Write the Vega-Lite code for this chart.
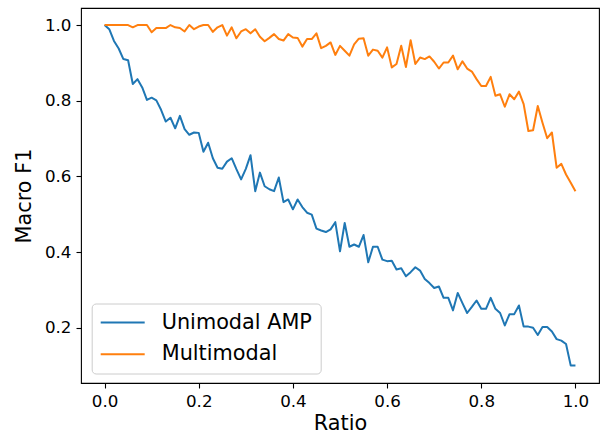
{
  "$schema": "https://vega.github.io/schema/vega-lite/v6.json",
  "width": 518,
  "height": 375,
  "autosize": {"type": "none"},
  "padding": {"left": 81, "top": 8, "right": 1, "bottom": 56},
  "background": "white",
  "data": {"values": [
    {"ratio":0,"model":"Unimodal AMP","f1":1.0},{"ratio":0.01,"model":"Unimodal AMP","f1":0.989},{"ratio":0.02,"model":"Unimodal AMP","f1":0.958},{"ratio":0.03,"model":"Unimodal AMP","f1":0.938},{"ratio":0.04,"model":"Unimodal AMP","f1":0.91},{"ratio":0.05,"model":"Unimodal AMP","f1":0.907},{"ratio":0.06,"model":"Unimodal AMP","f1":0.844},{"ratio":0.07,"model":"Unimodal AMP","f1":0.857},{"ratio":0.08,"model":"Unimodal AMP","f1":0.835},{"ratio":0.09,"model":"Unimodal AMP","f1":0.802},
    {"ratio":0.1,"model":"Unimodal AMP","f1":0.808},{"ratio":0.11,"model":"Unimodal AMP","f1":0.801},{"ratio":0.12,"model":"Unimodal AMP","f1":0.776},{"ratio":0.13,"model":"Unimodal AMP","f1":0.745},{"ratio":0.14,"model":"Unimodal AMP","f1":0.755},{"ratio":0.15,"model":"Unimodal AMP","f1":0.727},{"ratio":0.16,"model":"Unimodal AMP","f1":0.76},{"ratio":0.17,"model":"Unimodal AMP","f1":0.725},{"ratio":0.18,"model":"Unimodal AMP","f1":0.71},{"ratio":0.19,"model":"Unimodal AMP","f1":0.716},
    {"ratio":0.2,"model":"Unimodal AMP","f1":0.715},{"ratio":0.21,"model":"Unimodal AMP","f1":0.665},{"ratio":0.22,"model":"Unimodal AMP","f1":0.689},{"ratio":0.23,"model":"Unimodal AMP","f1":0.648},{"ratio":0.24,"model":"Unimodal AMP","f1":0.623},{"ratio":0.25,"model":"Unimodal AMP","f1":0.62},{"ratio":0.26,"model":"Unimodal AMP","f1":0.639},{"ratio":0.27,"model":"Unimodal AMP","f1":0.648},{"ratio":0.28,"model":"Unimodal AMP","f1":0.619},{"ratio":0.29,"model":"Unimodal AMP","f1":0.592},
    {"ratio":0.3,"model":"Unimodal AMP","f1":0.62},{"ratio":0.31,"model":"Unimodal AMP","f1":0.656},{"ratio":0.32,"model":"Unimodal AMP","f1":0.561},{"ratio":0.33,"model":"Unimodal AMP","f1":0.61},{"ratio":0.34,"model":"Unimodal AMP","f1":0.574},{"ratio":0.35,"model":"Unimodal AMP","f1":0.566},{"ratio":0.36,"model":"Unimodal AMP","f1":0.561},{"ratio":0.37,"model":"Unimodal AMP","f1":0.597},{"ratio":0.38,"model":"Unimodal AMP","f1":0.532},{"ratio":0.39,"model":"Unimodal AMP","f1":0.539},
    {"ratio":0.4,"model":"Unimodal AMP","f1":0.513},{"ratio":0.41,"model":"Unimodal AMP","f1":0.539},{"ratio":0.42,"model":"Unimodal AMP","f1":0.519},{"ratio":0.43,"model":"Unimodal AMP","f1":0.504},{"ratio":0.44,"model":"Unimodal AMP","f1":0.499},{"ratio":0.45,"model":"Unimodal AMP","f1":0.462},{"ratio":0.46,"model":"Unimodal AMP","f1":0.457},{"ratio":0.47,"model":"Unimodal AMP","f1":0.453},{"ratio":0.48,"model":"Unimodal AMP","f1":0.46},{"ratio":0.49,"model":"Unimodal AMP","f1":0.479},
    {"ratio":0.5,"model":"Unimodal AMP","f1":0.402},{"ratio":0.51,"model":"Unimodal AMP","f1":0.477},{"ratio":0.52,"model":"Unimodal AMP","f1":0.414},{"ratio":0.53,"model":"Unimodal AMP","f1":0.42},{"ratio":0.54,"model":"Unimodal AMP","f1":0.414},{"ratio":0.55,"model":"Unimodal AMP","f1":0.445},{"ratio":0.56,"model":"Unimodal AMP","f1":0.373},{"ratio":0.57,"model":"Unimodal AMP","f1":0.414},{"ratio":0.58,"model":"Unimodal AMP","f1":0.414},{"ratio":0.59,"model":"Unimodal AMP","f1":0.38},
    {"ratio":0.6,"model":"Unimodal AMP","f1":0.376},{"ratio":0.61,"model":"Unimodal AMP","f1":0.377},{"ratio":0.62,"model":"Unimodal AMP","f1":0.354},{"ratio":0.63,"model":"Unimodal AMP","f1":0.357},{"ratio":0.64,"model":"Unimodal AMP","f1":0.336},{"ratio":0.65,"model":"Unimodal AMP","f1":0.347},{"ratio":0.66,"model":"Unimodal AMP","f1":0.36},{"ratio":0.67,"model":"Unimodal AMP","f1":0.351},{"ratio":0.68,"model":"Unimodal AMP","f1":0.329},{"ratio":0.69,"model":"Unimodal AMP","f1":0.318},
    {"ratio":0.7,"model":"Unimodal AMP","f1":0.305},{"ratio":0.71,"model":"Unimodal AMP","f1":0.309},{"ratio":0.72,"model":"Unimodal AMP","f1":0.279},{"ratio":0.73,"model":"Unimodal AMP","f1":0.279},{"ratio":0.74,"model":"Unimodal AMP","f1":0.246},{"ratio":0.75,"model":"Unimodal AMP","f1":0.292},{"ratio":0.76,"model":"Unimodal AMP","f1":0.265},{"ratio":0.77,"model":"Unimodal AMP","f1":0.239},{"ratio":0.78,"model":"Unimodal AMP","f1":0.255},{"ratio":0.79,"model":"Unimodal AMP","f1":0.272},
    {"ratio":0.8,"model":"Unimodal AMP","f1":0.25},{"ratio":0.81,"model":"Unimodal AMP","f1":0.25},{"ratio":0.82,"model":"Unimodal AMP","f1":0.279},{"ratio":0.83,"model":"Unimodal AMP","f1":0.25},{"ratio":0.84,"model":"Unimodal AMP","f1":0.239},{"ratio":0.85,"model":"Unimodal AMP","f1":0.206},{"ratio":0.86,"model":"Unimodal AMP","f1":0.236},{"ratio":0.87,"model":"Unimodal AMP","f1":0.236},{"ratio":0.88,"model":"Unimodal AMP","f1":0.259},{"ratio":0.89,"model":"Unimodal AMP","f1":0.203},
    {"ratio":0.9,"model":"Unimodal AMP","f1":0.203},{"ratio":0.91,"model":"Unimodal AMP","f1":0.2},{"ratio":0.92,"model":"Unimodal AMP","f1":0.181},{"ratio":0.93,"model":"Unimodal AMP","f1":0.202},{"ratio":0.94,"model":"Unimodal AMP","f1":0.202},{"ratio":0.95,"model":"Unimodal AMP","f1":0.19},{"ratio":0.96,"model":"Unimodal AMP","f1":0.17},{"ratio":0.97,"model":"Unimodal AMP","f1":0.166},{"ratio":0.98,"model":"Unimodal AMP","f1":0.157},{"ratio":0.99,"model":"Unimodal AMP","f1":0.1},{"ratio":1.0,"model":"Unimodal AMP","f1":0.1},
    {"ratio":0,"model":"Multimodal","f1":1.0},{"ratio":0.01,"model":"Multimodal","f1":1.0},{"ratio":0.02,"model":"Multimodal","f1":1.0},{"ratio":0.03,"model":"Multimodal","f1":1.0},{"ratio":0.04,"model":"Multimodal","f1":1.0},{"ratio":0.05,"model":"Multimodal","f1":1.0},{"ratio":0.06,"model":"Multimodal","f1":0.994},{"ratio":0.07,"model":"Multimodal","f1":1.0},{"ratio":0.08,"model":"Multimodal","f1":1.0},{"ratio":0.09,"model":"Multimodal","f1":1.0},
    {"ratio":0.1,"model":"Multimodal","f1":0.981},{"ratio":0.11,"model":"Multimodal","f1":0.992},{"ratio":0.12,"model":"Multimodal","f1":0.992},{"ratio":0.13,"model":"Multimodal","f1":0.992},{"ratio":0.14,"model":"Multimodal","f1":1.0},{"ratio":0.15,"model":"Multimodal","f1":0.994},{"ratio":0.16,"model":"Multimodal","f1":0.992},{"ratio":0.17,"model":"Multimodal","f1":0.983},{"ratio":0.18,"model":"Multimodal","f1":1.0},{"ratio":0.19,"model":"Multimodal","f1":0.989},
    {"ratio":0.2,"model":"Multimodal","f1":0.996},{"ratio":0.21,"model":"Multimodal","f1":1.0},{"ratio":0.22,"model":"Multimodal","f1":1.0},{"ratio":0.23,"model":"Multimodal","f1":0.982},{"ratio":0.24,"model":"Multimodal","f1":0.994},{"ratio":0.25,"model":"Multimodal","f1":1.0},{"ratio":0.26,"model":"Multimodal","f1":0.972},{"ratio":0.27,"model":"Multimodal","f1":0.994},{"ratio":0.28,"model":"Multimodal","f1":0.965},{"ratio":0.29,"model":"Multimodal","f1":0.983},
    {"ratio":0.3,"model":"Multimodal","f1":0.989},{"ratio":0.31,"model":"Multimodal","f1":0.978},{"ratio":0.32,"model":"Multimodal","f1":0.989},{"ratio":0.33,"model":"Multimodal","f1":0.969},{"ratio":0.34,"model":"Multimodal","f1":0.957},{"ratio":0.35,"model":"Multimodal","f1":0.966},{"ratio":0.36,"model":"Multimodal","f1":0.976},{"ratio":0.37,"model":"Multimodal","f1":0.963},{"ratio":0.38,"model":"Multimodal","f1":0.959},{"ratio":0.39,"model":"Multimodal","f1":0.976},
    {"ratio":0.4,"model":"Multimodal","f1":0.967},{"ratio":0.41,"model":"Multimodal","f1":0.966},{"ratio":0.42,"model":"Multimodal","f1":0.943},{"ratio":0.43,"model":"Multimodal","f1":0.963},{"ratio":0.44,"model":"Multimodal","f1":0.963},{"ratio":0.45,"model":"Multimodal","f1":0.978},{"ratio":0.46,"model":"Multimodal","f1":0.939},{"ratio":0.47,"model":"Multimodal","f1":0.945},{"ratio":0.48,"model":"Multimodal","f1":0.954},{"ratio":0.49,"model":"Multimodal","f1":0.921},
    {"ratio":0.5,"model":"Multimodal","f1":0.945},{"ratio":0.51,"model":"Multimodal","f1":0.932},{"ratio":0.52,"model":"Multimodal","f1":0.919},{"ratio":0.53,"model":"Multimodal","f1":0.949},{"ratio":0.54,"model":"Multimodal","f1":0.964},{"ratio":0.55,"model":"Multimodal","f1":0.965},{"ratio":0.56,"model":"Multimodal","f1":0.919},{"ratio":0.57,"model":"Multimodal","f1":0.935},{"ratio":0.58,"model":"Multimodal","f1":0.932},{"ratio":0.59,"model":"Multimodal","f1":0.914},
    {"ratio":0.6,"model":"Multimodal","f1":0.941},{"ratio":0.61,"model":"Multimodal","f1":0.888},{"ratio":0.62,"model":"Multimodal","f1":0.897},{"ratio":0.63,"model":"Multimodal","f1":0.945},{"ratio":0.64,"model":"Multimodal","f1":0.889},{"ratio":0.65,"model":"Multimodal","f1":0.96},{"ratio":0.66,"model":"Multimodal","f1":0.897},{"ratio":0.67,"model":"Multimodal","f1":0.914},{"ratio":0.68,"model":"Multimodal","f1":0.91},{"ratio":0.69,"model":"Multimodal","f1":0.917},
    {"ratio":0.7,"model":"Multimodal","f1":0.903},{"ratio":0.71,"model":"Multimodal","f1":0.885},{"ratio":0.72,"model":"Multimodal","f1":0.901},{"ratio":0.73,"model":"Multimodal","f1":0.901},{"ratio":0.74,"model":"Multimodal","f1":0.919},{"ratio":0.75,"model":"Multimodal","f1":0.883},{"ratio":0.76,"model":"Multimodal","f1":0.904},{"ratio":0.77,"model":"Multimodal","f1":0.885},{"ratio":0.78,"model":"Multimodal","f1":0.877},{"ratio":0.79,"model":"Multimodal","f1":0.857},
    {"ratio":0.8,"model":"Multimodal","f1":0.839},{"ratio":0.81,"model":"Multimodal","f1":0.839},{"ratio":0.82,"model":"Multimodal","f1":0.863},{"ratio":0.83,"model":"Multimodal","f1":0.813},{"ratio":0.84,"model":"Multimodal","f1":0.817},{"ratio":0.85,"model":"Multimodal","f1":0.784},{"ratio":0.86,"model":"Multimodal","f1":0.817},{"ratio":0.87,"model":"Multimodal","f1":0.804},{"ratio":0.88,"model":"Multimodal","f1":0.824},{"ratio":0.89,"model":"Multimodal","f1":0.791},
    {"ratio":0.9,"model":"Multimodal","f1":0.72},{"ratio":0.91,"model":"Multimodal","f1":0.722},{"ratio":0.92,"model":"Multimodal","f1":0.786},{"ratio":0.93,"model":"Multimodal","f1":0.742},{"ratio":0.94,"model":"Multimodal","f1":0.701},{"ratio":0.95,"model":"Multimodal","f1":0.716},{"ratio":0.96,"model":"Multimodal","f1":0.623},{"ratio":0.97,"model":"Multimodal","f1":0.633},{"ratio":0.98,"model":"Multimodal","f1":0.605},{"ratio":0.99,"model":"Multimodal","f1":0.583},{"ratio":1.0,"model":"Multimodal","f1":0.561}
  ]},
  "mark": {"type": "line", "strokeWidth": 2, "strokeJoin": "round", "strokeCap": "butt"},
  "encoding": {
    "x": {
      "field": "ratio", "type": "quantitative", "title": "Ratio",
      "scale": {"domain": [-0.05, 1.05], "nice": false, "zero": false},
      "axis": {"values": [0, 0.2, 0.4, 0.6, 0.8, 1.0], "format": ".1f", "titlePadding": 4}
    },
    "y": {
      "field": "f1", "type": "quantitative", "title": "Macro F1",
      "scale": {"domain": [0.054, 1.045], "nice": false, "zero": false},
      "axis": {"values": [0.2, 0.4, 0.6, 0.8, 1.0], "format": ".1f", "titlePadding": 10}
    },
    "color": {
      "field": "model", "type": "nominal",
      "scale": {"domain": ["Unimodal AMP", "Multimodal"], "range": ["#1f77b4", "#ff7f0e"]},
      "legend": {
        "title": null, "orient": "none", "legendX": 10.7, "legendY": 295.5,
        "symbolType": "stroke", "symbolSize": 1936, "symbolStrokeWidth": 2,
        "labelFontSize": 20.8, "labelColor": "#000000", "labelOffset": 16, "labelLimit": 400,
        "clipHeight": 22, "rowPadding": 9.7, "padding": 8,
        "strokeColor": "#cccccc", "fillColor": "rgba(255,255,255,0.8)", "cornerRadius": 4
      }
    }
  },
  "config": {
    "font": "DejaVu Sans",
    "view": {"stroke": "#000000", "strokeWidth": 1.1},
    "axis": {
      "grid": false, "domain": false,
      "ticks": true, "tickColor": "#000000", "tickSize": 5, "tickWidth": 1.1,
      "labelFontSize": 16.7, "labelColor": "#000000", "labelPadding": 5, "labelFlush": false,
      "titleFontSize": 20.8, "titleFontWeight": "normal", "titleColor": "#000000"
    }
  }
}
